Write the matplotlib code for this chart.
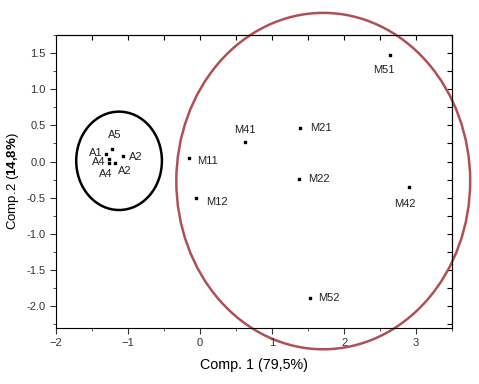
import matplotlib
matplotlib.use("Agg")
from matplotlib import pyplot as plt
from matplotlib.patches import Ellipse
from matplotlib.ticker import MultipleLocator

# sample scores (Comp. 1, Comp. 2)
names = ["A5", "A1", "A4", "A4", "A2", "A2",
         "M41", "M21", "M11", "M22", "M12", "M51", "M42", "M52"]
comp1 = [-1.22, -1.31, -1.27, -1.27, -1.07, -1.18,
         0.62, 1.39, -0.15, 1.37, -0.05, 2.63, 2.90, 1.53]
comp2 = [0.18, 0.10, 0.03, -0.02, 0.07, -0.02,
         0.27, 0.47, 0.05, -0.24, -0.50, 1.47, -0.35, -1.89]
# label offsets in points
offsets = [(2, 10), (-2, 1), (-2, -2), (-2, -8), (4, -0.5), (2, -6),
           (0, 9), (7, 0), (6, -2), (7, 0), (7, -3), (-4, -11), (-3, -12), (6, 0)]
aligns = ['center', 'right', 'right', 'center', 'left', 'left',
          'center', 'left', 'left', 'left', 'left', 'center', 'center', 'left']

plt.rcParams['font.family'] = ['Liberation Sans', 'DejaVu Sans']
plt.rcParams['mathtext.fontset'] = 'custom'
plt.rcParams['mathtext.rm'] = 'Liberation Sans'
plt.rcParams['mathtext.bf'] = 'Liberation Sans:bold'

fig = plt.figure(figsize=(4.79, 3.84), dpi=100)
ax = fig.add_axes([0.117, 0.146, 0.827, 0.763])

ax.scatter(comp1, comp2, marker='s', s=4, color='black', zorder=3)
for n, x, y, off, ha in zip(names, comp1, comp2, offsets, aligns):
    ax.annotate(n, (x, y), xytext=off, textcoords='offset points',
                fontsize=8, ha=ha, va='center', color='#222222')

ax.add_patch(Ellipse((-1.125, 0.01), 1.19, 1.36, fill=False,
                     edgecolor='black', lw=1.8, clip_on=False))
ax.add_patch(Ellipse((1.71, -0.27), 4.08, 4.65, fill=False,
                     edgecolor='#b05055', lw=1.8, clip_on=False))

ax.set_xlim(-2, 3.5)
ax.set_ylim(-2.3, 1.75)
ax.xaxis.set_major_locator(MultipleLocator(1))
ax.xaxis.set_minor_locator(MultipleLocator(0.5))
ax.yaxis.set_major_locator(MultipleLocator(0.5))
ax.yaxis.set_minor_locator(MultipleLocator(0.25))
ax.tick_params(which='both', labelsize=8, colors='#333333')
ax.tick_params(which='major', length=4)
ax.tick_params(which='minor', length=2.5)
ax.tick_params(which='both', direction='out', bottom=True, left=True)
# mirrored ticks on top/right point inward
ax2 = ax.secondary_xaxis('top')
ax2.xaxis.set_major_locator(MultipleLocator(0.5))
ax2.tick_params(direction='in', length=3.5, labeltop=False)
ax3 = ax.secondary_yaxis('right')
ax3.yaxis.set_major_locator(MultipleLocator(0.25))
ax3.tick_params(direction='in', length=3.5, labelright=False)
ax.yaxis.set_major_formatter(plt.FuncFormatter(lambda v, p: f"{v:.1f}"))

ax.set_xlabel("Comp. 1 (79,5%)", fontsize=10.3, labelpad=7)
ax.set_ylabel("Comp.2 ($\\mathbf{14{,}8\\%}$)", fontsize=9.5, labelpad=4)

fig.savefig("out.png", dpi=100)
